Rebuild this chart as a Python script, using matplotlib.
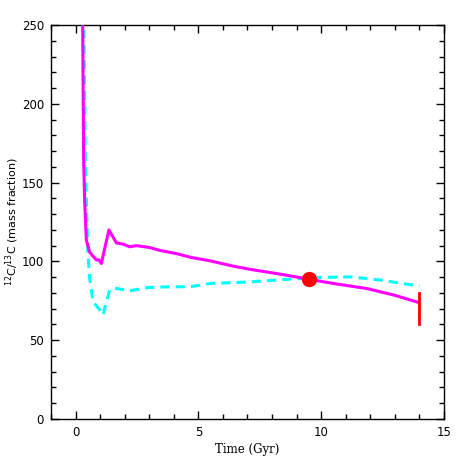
import numpy as np
import matplotlib.pyplot as plt
from matplotlib.ticker import MultipleLocator

# model 1 (solid magenta)
t_m = [0.25, 0.29, 0.33, 0.37, 0.44, 0.57, 0.84, 0.95, 1.05, 1.36, 1.66, 1.93, 2.2, 2.48,
       3.02, 3.43, 4.1, 4.72, 5.47, 6.42, 7.1, 7.5, 8.5, 9.52, 10.5, 11.86, 13.0, 14.0]
r_m = [280, 250, 164, 139, 113.5, 106, 101, 101, 98.7, 120, 111.8, 111, 109.3, 110,
       108.8, 107, 105, 102.5, 100.4, 97, 95, 94, 91.5, 88.6, 86, 82.8, 78.5, 73.8]

# model 2 (dashed cyan)
t_c = [0.31, 0.34, 0.40, 0.44, 0.5, 0.57, 0.71, 0.95, 1.12, 1.39, 1.6, 2.2, 3.0, 3.84,
       4.65, 5.47, 7.1, 7.5, 8.5, 9.8, 11.2, 12.5, 14.0]
r_c = [280, 250, 164, 139, 107, 90, 74.4, 70, 66, 82, 83, 81.4, 83.5, 83.9,
       83.9, 86, 87, 87.5, 88.5, 89.8, 90.2, 88, 84.3]

# present-day value and observed range
t_sun, r_sun = 9.52, 88.6
t_obs, r_obs_lo, r_obs_hi = 14.0, 60, 80

fig = plt.figure(figsize=(4.69, 4.69), dpi=100)
ax = fig.add_axes([0.1087, 0.1066, 0.838, 0.840])

ax.plot(t_m, r_m, color='magenta', lw=2.2, zorder=3)
ax.plot(t_c, r_c, color='cyan', lw=2.2, ls=(0, (3, 2)), zorder=2)
ax.plot([t_sun], [r_sun], 'o', color='red', ms=10, zorder=4)
ax.plot([t_obs, t_obs], [r_obs_lo, r_obs_hi], color='red', lw=2, zorder=4)

ax.set_xlim(-1, 15)
ax.set_ylim(0, 250)
ax.xaxis.set_major_locator(MultipleLocator(5))
ax.xaxis.set_minor_locator(MultipleLocator(1))
ax.yaxis.set_major_locator(MultipleLocator(50))
ax.yaxis.set_minor_locator(MultipleLocator(10))
ax.tick_params(which='both', direction='in', top=True, right=True, labelsize=8.5, width=1)
ax.tick_params(which='major', length=6, pad=5)
ax.tick_params(which='minor', length=3.5)
for s in ax.spines.values():
    s.set_linewidth(1)

ax.set_xlabel('Time (Gyr)', family='DejaVu Serif', fontsize=8.5, labelpad=3)
ax.set_ylabel(r'$^{12}$C/$^{13}$C (mass fraction)', fontsize=8, va='center')
ax.yaxis.set_label_coords(-0.098, 0.5)

fig.savefig('out.png', dpi=100)
